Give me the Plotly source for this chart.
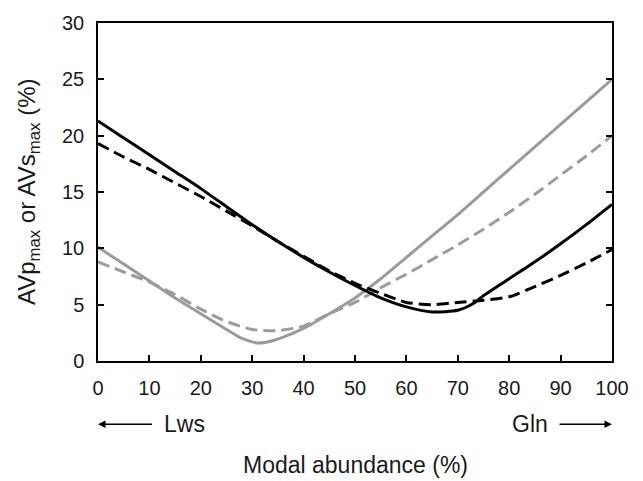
import plotly.graph_objects as go

# Modal abundance (%) sample positions for each curve
bs_x = [0, 5, 10, 15, 20, 25, 30, 35, 40, 45, 50, 55, 60, 65, 70, 73, 75, 80, 85, 90, 95, 100]
bs_y = [21.3, 19.8, 18.3, 16.8, 15.3, 13.7, 12.1, 10.6, 9.2, 7.9, 6.7, 5.6, 4.8, 4.35, 4.5, 5.1, 5.8, 7.3, 8.8, 10.4, 12.1, 13.9]

bd_x = [0, 5, 10, 15, 20, 25, 30, 35, 40, 45, 50, 55, 60, 65, 70, 75, 80, 85, 90, 95, 100]
bd_y = [19.3, 18.1, 17.0, 15.8, 14.6, 13.3, 12.0, 10.6, 9.3, 8.0, 6.9, 6.0, 5.2, 5.0, 5.2, 5.4, 5.7, 6.6, 7.6, 8.7, 9.9]

gs_x = [0, 5, 10, 15, 20, 25, 28, 31, 34, 37, 40, 45, 50, 55, 60, 65, 70, 75, 80, 85, 90, 95, 100]
gs_y = [10.1, 8.6, 7.1, 5.6, 4.2, 2.8, 2.0, 1.6, 1.8, 2.3, 2.9, 4.2, 5.6, 7.3, 9.2, 11.1, 13.0, 15.0, 17.0, 19.0, 21.0, 23.0, 25.0]

gd_x = [0, 5, 10, 15, 20, 25, 30, 35, 40, 45, 50, 55, 60, 65, 70, 75, 80, 85, 90, 95, 100]
gd_y = [8.8, 7.9, 7.0, 5.9, 4.6, 3.5, 2.8, 2.7, 3.1, 4.2, 5.2, 6.5, 7.7, 9.0, 10.3, 11.7, 13.2, 14.8, 16.5, 18.2, 20.0]

x_ticks = [0, 10, 20, 30, 40, 50, 60, 70, 80, 90, 100]
y_ticks = [0, 5, 10, 15, 20, 25, 30]

GRAY = "#9b9b9b"
BLACK = "#000000"
DASH = "12px,6px"

fig = go.Figure()
fig.add_trace(go.Scatter(x=gs_x, y=gs_y, mode="lines",
                         line=dict(color=GRAY, width=3, shape="spline", smoothing=0.6)))
fig.add_trace(go.Scatter(x=gd_x, y=gd_y, mode="lines",
                         line=dict(color=GRAY, width=3, dash=DASH, shape="spline", smoothing=0.6)))
fig.add_trace(go.Scatter(x=bs_x, y=bs_y, mode="lines",
                         line=dict(color=BLACK, width=3, shape="spline", smoothing=0.6)))
fig.add_trace(go.Scatter(x=bd_x, y=bd_y, mode="lines",
                         line=dict(color=BLACK, width=3, dash=DASH, shape="spline", smoothing=0.6)))

font = "Liberation Sans, Arial, sans-serif"
fig.update_layout(
    width=643, height=481,
    margin=dict(l=98, r=31, t=18, b=120),
    paper_bgcolor="white", plot_bgcolor="white",
    showlegend=False,
    font=dict(family=font, size=20, color="#1a1a1a"),
)
fig.update_xaxes(range=[0, 100], tickvals=x_ticks, ticks="inside", ticklen=6, tickwidth=1.5,
                 tickcolor="black", showline=True, linecolor="black", linewidth=1.5,
                 mirror=True, showgrid=False, zeroline=False, ticklabelstandoff=8)
fig.update_yaxes(range=[0, 30], tickvals=y_ticks, ticks="inside", ticklen=6, tickwidth=1.5,
                 tickcolor="black", showline=True, linecolor="black", linewidth=1.5,
                 mirror="ticks", showgrid=False, zeroline=False, ticklabelstandoff=8)

ann = []
# x title
ann.append(dict(text="Modal abundance (%)", xref="paper", yref="paper", x=0.5, y=-0.309,
                xanchor="center", yanchor="middle", showarrow=False, font=dict(size=23)))
# y title
ann.append(dict(text="AVp<sub>max</sub> or AVs<sub>max</sub> (%)", xref="paper", yref="paper",
                x=-0.136, y=0.5, xanchor="center", yanchor="middle", textangle=-90,
                showarrow=False, font=dict(size=24)))
# Lws / Gln labels with their arrows (arrow head at the axis ends)
ann.append(dict(text="Lws", xref="paper", yref="paper", x=0.0, y=-0.187, ax=86, ay=0,
                borderpad=11, showarrow=True, arrowhead=2, arrowsize=1, arrowwidth=1.5,
                arrowcolor="black", font=dict(size=23)))
ann.append(dict(text="Gln", xref="paper", yref="paper", x=1.0, y=-0.187, ax=-82, ay=0,
                borderpad=11, showarrow=True, arrowhead=2, arrowsize=1, arrowwidth=1.5,
                arrowcolor="black", font=dict(size=23)))
fig.update_layout(annotations=ann)

fig.write_html("out.html")
